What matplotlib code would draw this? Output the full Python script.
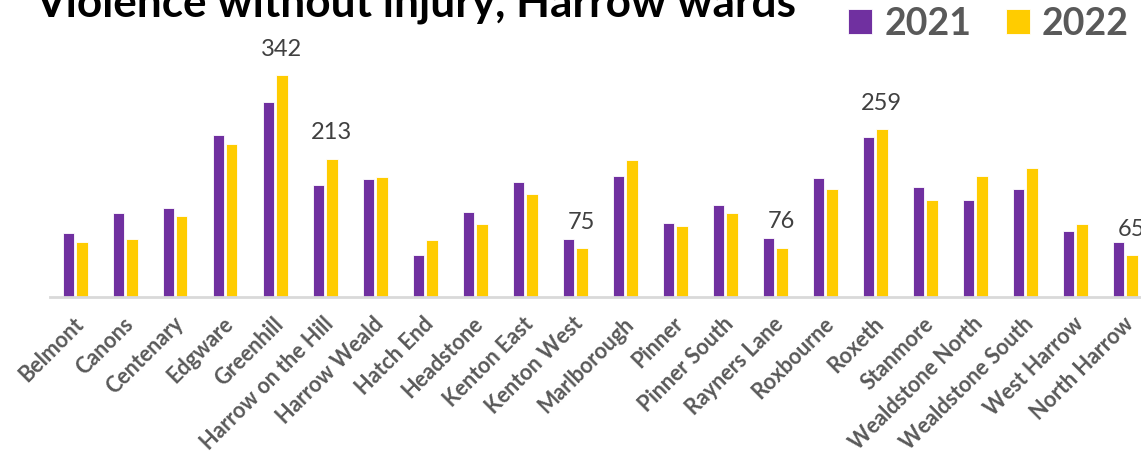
import numpy as np
import matplotlib
matplotlib.use("Agg")
import matplotlib.pyplot as plt
from matplotlib.transforms import ScaledTranslation

plt.rcParams['font.family'] = ['Lato', 'DejaVu Sans']

wards = ["Belmont", "Canons", "Centenary", "Edgware", "Greenhill",
         "Harrow on the Hill", "Harrow Weald", "Hatch End", "Headstone",
         "Kenton East", "Kenton West", "Marlborough", "Pinner", "Pinner South",
         "Rayners Lane", "Roxbourne", "Roxeth", "Stanmore", "Wealdstone North",
         "Wealdstone South", "West Harrow", "North Harrow"]
vals2021 = [98, 129, 137, 249, 300, 172, 182, 64, 131, 177, 90,
            186, 114, 142, 91, 183, 246, 170, 150, 167, 102, 84]
vals2022 = [84, 89, 125, 235, 342, 213, 185, 88, 112, 158, 75,
            211, 109, 130, 76, 167, 259, 150, 186, 199, 112, 65]
# which 2022 bars carry a data label
labelled = ["Greenhill", "Harrow on the Hill", "Kenton West",
            "Rayners Lane", "Roxeth", "North Harrow"]

purple = "#7030A0"
yellow = "#FFCC00"
grey = "#595959"

fig = plt.figure(figsize=(11.41, 4.61), dpi=100)
W, H = 1141, 461
step = 50.0  # px per category
# baseline at y=297px, top of axes at 30px
ax = fig.add_axes([50 / W, (H - 297) / H, 1 - 50 / W, (297 - 30) / H])

x = np.arange(len(wards))
bw = 0.23
ax.bar(x - 0.135, vals2021, bw, color=purple, edgecolor="white", linewidth=0.6, label="2021")
ax.bar(x + 0.135, vals2022, bw, color=yellow, edgecolor="white", linewidth=0.6, label="2022")

for i, w in enumerate(wards):
    if w in labelled:
        ax.annotate(str(vals2022[i]), (x[i] + 0.135, vals2022[i]), xytext=(0, 11),
                    textcoords="offset points", ha="center", va="bottom",
                    fontsize=17, color="#404040")

ax.set_xlim(-0.5, -0.5 + (W - 50) / step)
ax.set_ylim(0, 267 / (222 / 342))
ax.set_xticks(x)
ax.set_xticklabels(wards, rotation=45, ha="right", va="center", rotation_mode="anchor",
                   fontsize=15.5, fontweight="bold", color=grey)
ax.tick_params(axis="x", length=0, pad=17)
# nudge tick labels a little to the right
shift = ScaledTranslation(5 / 100, 0, fig.dpi_scale_trans)
for lab in ax.get_xticklabels():
    lab.set_transform(lab.get_transform() + shift)
ax.set_yticks([])
for s in ["top", "left", "right"]:
    ax.spines[s].set_visible(False)
ax.spines["bottom"].set_color("#D9D9D9")
ax.spines["bottom"].set_linewidth(2)

fig.text(35 / W, 1 - 16 / H, "Violence without injury, Harrow wards", fontsize=31.8,
         fontweight="bold", color="black", ha="left", va="baseline")

leg = ax.legend(ncol=2, loc="upper right", bbox_to_anchor=(1129 / W, 1 - 7 / H),
                bbox_transform=fig.transFigure, frameon=False, fontsize=27,
                handlelength=0.64, handleheight=0.64, handletextpad=0.32,
                columnspacing=0.93, borderpad=0, borderaxespad=0)
for t in leg.get_texts():
    t.set_fontweight("bold")
    t.set_color(grey)

fig.savefig("out.png", dpi=100)
